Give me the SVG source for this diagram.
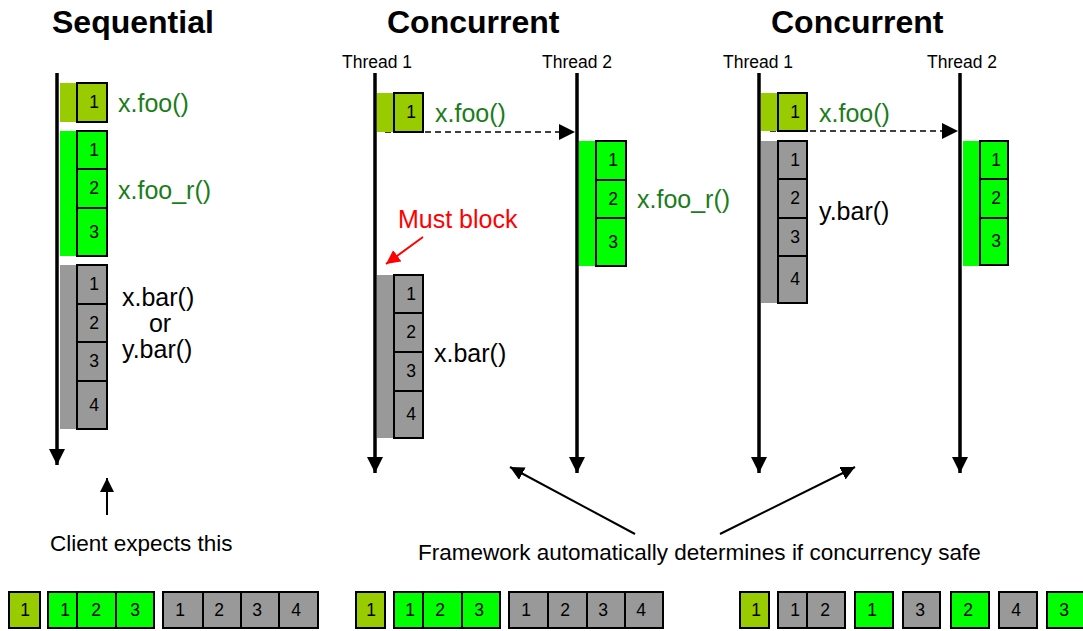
<svg xmlns="http://www.w3.org/2000/svg" width="1083" height="631" viewBox="0 0 1083 631">
<defs>
<style>
text{font-family:"Liberation Sans",Arial,sans-serif;fill:#000}
.title{font-size:32px;font-weight:bold}
.thr{font-size:17.5px}
.lbl{font-size:25px}
.dg{fill:#1a7d1a}
.red{fill:#ff0000}
.num{font-size:17.5px;text-anchor:middle}
.note{font-size:22.5px}
.lg{fill:#99cc00}
.gr{fill:#00ff00}
.gy{fill:#999999}
.box{stroke:#000;stroke-width:2}
.axis{stroke:#000;stroke-width:3.5;fill:none}
.dash{stroke:#000;stroke-width:1.6;stroke-dasharray:6 4;fill:none}
.thin{stroke:#000;stroke-width:2;fill:none}
</style>
<marker id="ah" viewBox="0 0 10 10" refX="10" refY="5" markerWidth="16" markerHeight="16" markerUnits="userSpaceOnUse" orient="auto"><path d="M0,0 L10,5 L0,10 Z" fill="#000"/></marker>
<marker id="ahs" viewBox="0 0 10 10" refX="10" refY="5" markerWidth="14" markerHeight="14" markerUnits="userSpaceOnUse" orient="auto"><path d="M0,0 L10,5 L0,10 Z" fill="#000"/></marker>
<marker id="ahr" viewBox="0 0 10 10" refX="10" refY="5" markerWidth="14" markerHeight="14" markerUnits="userSpaceOnUse" orient="auto"><path d="M0,0 L10,5 L0,10 Z" fill="#ff0000"/></marker>
</defs>
<rect width="1083" height="631" fill="#fff"/>

<g id="titles">
<text class="title" x="52" y="33">Sequential</text>
<text class="title" x="387" y="33">Concurrent</text>
<text class="title" x="771" y="33">Concurrent</text>
<text class="thr" x="342" y="68">Thread 1</text>
<text class="thr" x="542" y="68">Thread 2</text>
<text class="thr" x="723" y="68">Thread 1</text>
<text class="thr" x="927" y="68">Thread 2</text>
</g>

<g id="connectors">
<line class="axis" x1="57" y1="73" x2="57" y2="465" marker-end="url(#ah)"/>
<line class="axis" x1="375" y1="73" x2="375" y2="473" marker-end="url(#ah)"/>
<line class="axis" x1="577" y1="73" x2="577" y2="473" marker-end="url(#ah)"/>
<line class="axis" x1="759" y1="73" x2="759" y2="473" marker-end="url(#ah)"/>
<line class="axis" x1="960" y1="73" x2="960" y2="473" marker-end="url(#ah)"/>
<line class="dash" x1="385" y1="132" x2="575" y2="132" marker-end="url(#ah)"/>
<line class="dash" x1="770" y1="131" x2="958" y2="131" marker-end="url(#ah)"/>
<line stroke="#ff0000" stroke-width="2" x1="423" y1="237" x2="386" y2="264" marker-end="url(#ahr)"/>
<line class="thin" x1="107" y1="515" x2="107" y2="478" marker-end="url(#ahs)"/>
<line class="thin" x1="635" y1="534" x2="510" y2="467" marker-end="url(#ahs)"/>
<line class="thin" x1="720" y1="534" x2="855" y2="467" marker-end="url(#ahs)"/>
</g>

<g id="seq-foo">
<rect class="lg" x="60" y="83" width="17" height="39"/>
<rect class="lg box" x="77" y="83" width="30" height="39"/>
<text class="num" x="94" y="108">1</text>
<text class="lbl dg" x="118" y="112">x.foo()</text>
</g>
<g id="seq-foo_r">
<rect class="gr" x="60" y="131" width="17" height="125"/>
<rect class="gr box" x="77" y="131" width="30" height="38"/>
<rect class="gr box" x="77" y="169" width="30" height="39"/>
<rect class="gr box" x="77" y="208" width="30" height="48"/>
<text class="num" x="94" y="156">1</text>
<text class="num" x="94" y="194">2</text>
<text class="num" x="94" y="238">3</text>
<text class="lbl dg" x="118" y="199">x.foo_r()</text>
</g>
<g id="seq-bar">
<rect class="gy" x="60" y="265" width="17" height="164"/>
<rect class="gy box" x="77" y="265" width="30" height="39"/>
<rect class="gy box" x="77" y="304" width="30" height="38"/>
<rect class="gy box" x="77" y="342" width="30" height="39"/>
<rect class="gy box" x="77" y="381" width="30" height="48"/>
<text class="num" x="94" y="290">1</text>
<text class="num" x="94" y="329">2</text>
<text class="num" x="94" y="367">3</text>
<text class="num" x="94" y="411">4</text>
<text class="lbl" x="122" y="306">x.bar()</text>
<text class="lbl" x="160" y="332" text-anchor="middle">or</text>
<text class="lbl" x="122" y="358">y.bar()</text>
</g>
<g id="client-note">
<text class="note" x="50" y="551">Client expects this</text>
</g>

<g id="c1-foo">
<rect class="lg" x="377" y="93" width="17" height="39"/>
<rect class="lg box" x="394" y="93" width="29" height="39"/>
<text class="num" x="411" y="118">1</text>
<text class="lbl dg" x="435" y="122">x.foo()</text>
</g>
<g id="c1-foo_r">
<rect class="gr" x="579" y="141" width="17" height="125"/>
<rect class="gr box" x="596" y="141" width="30" height="39"/>
<rect class="gr box" x="596" y="180" width="30" height="38"/>
<rect class="gr box" x="596" y="218" width="30" height="48"/>
<text class="num" x="613" y="166">1</text>
<text class="num" x="613" y="205">2</text>
<text class="num" x="613" y="248">3</text>
<text class="lbl dg" x="637" y="208">x.foo_r()</text>
</g>
<g id="c1-block">
<text class="lbl red" x="398" y="228">Must block</text>
</g>
<g id="c1-bar">
<rect class="gy" x="377" y="275" width="17" height="163"/>
<rect class="gy box" x="394" y="275" width="29" height="38"/>
<rect class="gy box" x="394" y="313" width="29" height="39"/>
<rect class="gy box" x="394" y="352" width="29" height="39"/>
<rect class="gy box" x="394" y="391" width="29" height="47"/>
<text class="num" x="411" y="300">1</text>
<text class="num" x="411" y="338">2</text>
<text class="num" x="411" y="377">3</text>
<text class="num" x="411" y="420">4</text>
<text class="lbl" x="434" y="362">x.bar()</text>
</g>

<g id="c2-foo">
<rect class="lg" x="761" y="93" width="17" height="38"/>
<rect class="lg box" x="778" y="93" width="29" height="38"/>
<text class="num" x="795" y="118">1</text>
<text class="lbl dg" x="819" y="122">x.foo()</text>
</g>
<g id="c2-bar">
<rect class="gy" x="761" y="141" width="17" height="162"/>
<rect class="gy box" x="778" y="141" width="29" height="38"/>
<rect class="gy box" x="778" y="179" width="29" height="39"/>
<rect class="gy box" x="778" y="218" width="29" height="38"/>
<rect class="gy box" x="778" y="256" width="29" height="47"/>
<text class="num" x="795" y="166">1</text>
<text class="num" x="795" y="204">2</text>
<text class="num" x="795" y="243">3</text>
<text class="num" x="795" y="285">4</text>
<text class="lbl" x="819" y="220">y.bar()</text>
</g>
<g id="c2-foo_r">
<rect class="gr" x="963" y="141" width="17" height="125"/>
<rect class="gr box" x="980" y="141" width="28" height="38"/>
<rect class="gr box" x="980" y="179" width="28" height="39"/>
<rect class="gr box" x="980" y="218" width="28" height="47"/>
<text class="num" x="996" y="166">1</text>
<text class="num" x="996" y="204">2</text>
<text class="num" x="996" y="247">3</text>
</g>

<g id="framework-note">
<text class="note" x="418" y="560">Framework automatically determines if concurrency safe</text>
</g>

<g id="order-seq">
<rect class="lg box" x="9" y="592" width="31" height="36"/>
<text class="num" x="25" y="616">1</text>
<rect class="gr box" x="48" y="592" width="29" height="36"/>
<rect class="gr box" x="77" y="592" width="39" height="36"/>
<rect class="gr box" x="116" y="592" width="38" height="36"/>
<text class="num" x="65" y="616">1</text>
<text class="num" x="96" y="616">2</text>
<text class="num" x="135" y="616">3</text>
<rect class="gy box" x="163" y="592" width="40" height="36"/>
<rect class="gy box" x="203" y="592" width="38" height="36"/>
<rect class="gy box" x="241" y="592" width="38" height="36"/>
<rect class="gy box" x="279" y="592" width="39" height="36"/>
<text class="num" x="180" y="616">1</text>
<text class="num" x="219" y="616">2</text>
<text class="num" x="257" y="616">3</text>
<text class="num" x="296" y="616">4</text>
</g>
<g id="order-c1">
<rect class="lg box" x="356" y="592" width="29" height="36"/>
<text class="num" x="371" y="616">1</text>
<rect class="gr box" x="394" y="592" width="29" height="36"/>
<rect class="gr box" x="423" y="592" width="39" height="36"/>
<rect class="gr box" x="462" y="592" width="38" height="36"/>
<text class="num" x="410" y="616">1</text>
<text class="num" x="440" y="616">2</text>
<text class="num" x="479" y="616">3</text>
<rect class="gy box" x="509" y="592" width="39" height="36"/>
<rect class="gy box" x="548" y="592" width="39" height="36"/>
<rect class="gy box" x="587" y="592" width="38" height="36"/>
<rect class="gy box" x="625" y="592" width="38" height="36"/>
<text class="num" x="526" y="616">1</text>
<text class="num" x="565" y="616">2</text>
<text class="num" x="603" y="616">3</text>
<text class="num" x="641" y="616">4</text>
</g>
<g id="order-c2">
<rect class="lg box" x="740" y="592" width="29" height="36"/>
<text class="num" x="756" y="616">1</text>
<rect class="gy box" x="778" y="592" width="29" height="36"/>
<rect class="gy box" x="807" y="592" width="38" height="36"/>
<text class="num" x="795" y="616">1</text>
<text class="num" x="825" y="616">2</text>
<rect class="gr box" x="855" y="592" width="38" height="36"/>
<text class="num" x="872" y="616">1</text>
<rect class="gy box" x="903" y="592" width="37" height="36"/>
<text class="num" x="920" y="616">3</text>
<rect class="gr box" x="951" y="592" width="38" height="36"/>
<text class="num" x="968" y="616">2</text>
<rect class="gy box" x="999" y="592" width="38" height="36"/>
<text class="num" x="1016" y="616">4</text>
<rect class="gr box" x="1047" y="592" width="38" height="36"/>
<text class="num" x="1064" y="616">3</text>
</g>
</svg>
